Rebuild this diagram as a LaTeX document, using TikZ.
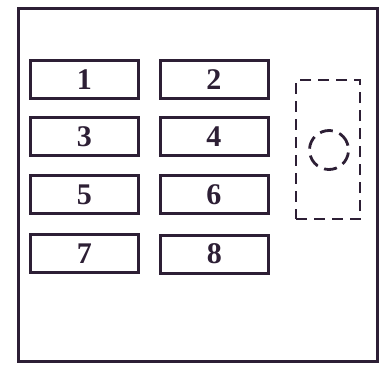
\documentclass[tikz,border=0pt]{standalone}
\usepackage{fontspec}
\setmainfont{Liberation Serif}
\definecolor{ink}{HTML}{2D1F35}
\begin{document}
\begin{tikzpicture}[x=1pt,y=-1pt,
  fuse/.style={draw=ink,line width=3pt,minimum width=108pt,minimum height=38pt,inner sep=0pt,
    font=\fontsize{30}{30}\selectfont\bfseries,text=ink},
  dash box/.style={draw=ink,line width=2.8pt,dash pattern=on 11pt off 7pt}]
\useasboundingbox (0,0) rectangle (384,365);
\node[draw=ink,line width=2.8pt,minimum width=359pt,minimum height=353pt,inner sep=0pt] (frame) at (198,185) {};
\node[fuse] (f1) at (84.5,79.5) {1};
\node[fuse] (f2) at (214,79.5) {2};
\node[fuse] (f3) at (84.5,136.5) {3};
\node[fuse] (f4) at (214,136.5) {4};
\node[fuse] (f5) at (84.5,194.5) {5};
\node[fuse] (f6) at (214,194.5) {6};
\node[fuse] (f7) at (84.5,253.5) {7};
\node[fuse] (f8) at (214.5,254) {8};
\node[dash box,minimum width=64pt,minimum height=139pt,inner sep=0pt] (relay) at (328,149.5) {};
\node[dash box,circle,minimum size=39pt,inner sep=0pt,dash pattern=on 13pt off 7pt,rotate=20] (hole) at (329,150) {};
\end{tikzpicture}
\end{document}
